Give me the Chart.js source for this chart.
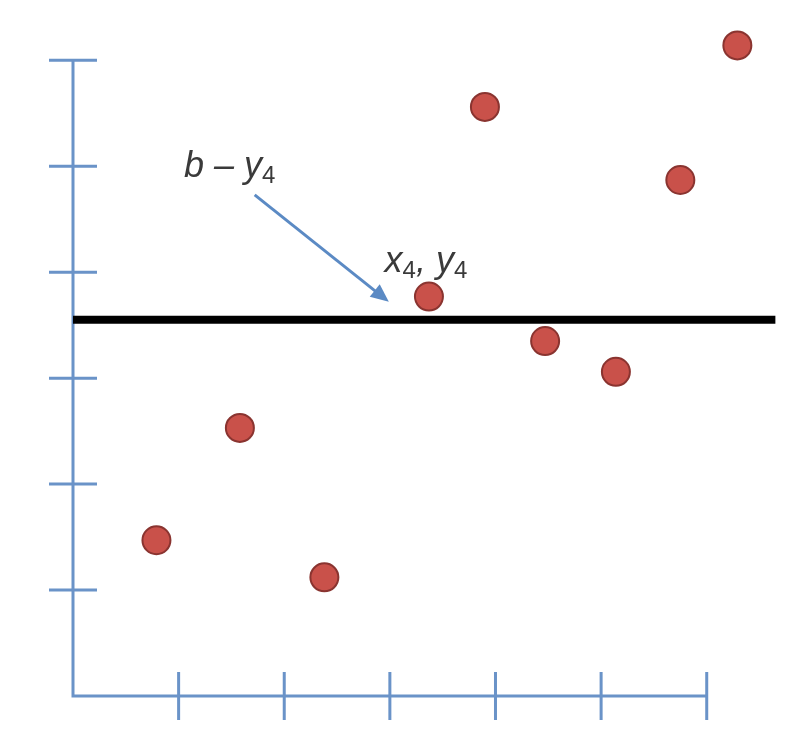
<!DOCTYPE html>
<html>
<head>
<meta charset="utf-8">
<script src="https://cdn.jsdelivr.net/npm/chart.js@4"></script>
<style>
  html, body { margin: 0; padding: 0; background: #fff; }
  #wrap { width: 803px; height: 743px; }
</style>
</head>
<body>
<div id="wrap"><canvas id="chart"></canvas></div>
<script>
// data points (axis tick = 1 unit)
const pointX = [0.79, 1.58, 2.38, 3.37, 3.90, 4.47, 5.14, 5.75, 6.29];
const pointY = [1.47, 2.53, 1.12, 3.77, 5.56, 3.35, 3.06, 4.87, 6.14];

// horizontal line y = b
const lineX = [0, 6.65];
const lineB = 3.55;

// axis ticks
const xTicks = [1, 2, 3, 4, 5, 6];
const yTicks = [1, 2, 3, 4, 5, 6];

// arrow from label to point 4
const arrowFrom = [1.72, 4.73];
const arrowTo = [2.99, 3.72];

const axisColour = "#6a93c8";

// draws the blue axes with crossing tick marks
const axesPlugin = {
    id: "axes",
    beforeDatasetsDraw(chart) {
        const ctx = chart.ctx;
        const xs = chart.scales.x, ys = chart.scales.y;
        const x0 = xs.getPixelForValue(0), y0 = ys.getPixelForValue(0);
        const half = 24;
        ctx.save();
        ctx.strokeStyle = axisColour;
        ctx.lineWidth = 3;
        ctx.beginPath();
        ctx.moveTo(x0, ys.getPixelForValue(yTicks[yTicks.length - 1]));
        ctx.lineTo(x0, y0);
        ctx.lineTo(xs.getPixelForValue(xTicks[xTicks.length - 1]), y0);
        yTicks.forEach(t => {
            const py = ys.getPixelForValue(t);
            ctx.moveTo(x0 - half, py);
            ctx.lineTo(x0 + half, py);
        });
        xTicks.forEach(t => {
            const px = xs.getPixelForValue(t);
            ctx.moveTo(px, y0 - half);
            ctx.lineTo(px, y0 + half);
        });
        ctx.stroke();

        // arrow
        const ax = xs.getPixelForValue(arrowFrom[0]), ay = ys.getPixelForValue(arrowFrom[1]);
        const bx = xs.getPixelForValue(arrowTo[0]), by = ys.getPixelForValue(arrowTo[1]);
        const ang = Math.atan2(by - ay, bx - ax);
        ctx.strokeStyle = "#5b8ac4";
        ctx.fillStyle = "#5b8ac4";
        ctx.lineWidth = 3;
        ctx.beginPath();
        ctx.moveTo(ax, ay);
        ctx.lineTo(bx - 8 * Math.cos(ang), by - 8 * Math.sin(ang));
        ctx.stroke();
        ctx.beginPath();
        ctx.moveTo(bx, by);
        ctx.lineTo(bx - 18 * Math.cos(ang) + 8 * Math.sin(ang), by - 18 * Math.sin(ang) - 8 * Math.cos(ang));
        ctx.lineTo(bx - 18 * Math.cos(ang) - 8 * Math.sin(ang), by - 18 * Math.sin(ang) + 8 * Math.cos(ang));
        ctx.closePath();
        ctx.fill();
        ctx.restore();
    },
    afterDatasetsDraw(chart) {
        const ctx = chart.ctx;
        const xs = chart.scales.x, ys = chart.scales.y;
        const big = "italic 36px 'Liberation Sans', Arial, sans-serif";
        const small = "24px 'Liberation Sans', Arial, sans-serif";
        ctx.save();
        ctx.fillStyle = "#3a3a3a";
        ctx.textBaseline = "alphabetic";
        // "b − y4"
        let px = xs.getPixelForValue(1.05), py = ys.getPixelForValue(4.9);
        ctx.font = big;
        const main1 = "b \u2013 y";
        ctx.fillText(main1, px, py);
        let w = ctx.measureText(main1).width;
        ctx.font = small;
        ctx.fillText("4", px + w, py + 6);
        // "x4, y4"
        px = xs.getPixelForValue(2.95); py = ys.getPixelForValue(4.0);
        ctx.font = big;
        ctx.fillText("x", px, py);
        w = ctx.measureText("x").width;
        ctx.font = small;
        ctx.fillText("4", px + w, py + 6);
        w += ctx.measureText("4").width;
        ctx.font = big;
        ctx.fillText(", y", px + w, py);
        w += ctx.measureText(", y").width;
        ctx.font = small;
        ctx.fillText("4", px + w, py + 6);
        ctx.restore();
    }
};

new Chart(document.getElementById("chart"), {
    type: "scatter",
    data: {
        datasets: [
            {
                label: "b",
                type: "line",
                data: lineX.map(x => ({ x: x, y: lineB })),
                borderColor: "#000",
                borderWidth: 8,
                pointRadius: 0,
                clip: false,
                order: 2
            },
            {
                label: "points",
                data: pointX.map((x, i) => ({ x: x, y: pointY[i] })),
                backgroundColor: "#c9514a",
                borderColor: "#8a3430",
                borderWidth: 2,
                pointRadius: 14,
                clip: false,
                order: 1
            }
        ]
    },
    options: {
        responsive: true,
        maintainAspectRatio: false,
        animation: false,
        layout: { padding: { left: 73, right: 13, top: 20, bottom: 47 } },
        scales: {
            x: { type: "linear", min: 0, max: 6.76, display: false },
            y: { type: "linear", min: 0, max: 6.38, display: false }
        },
        plugins: {
            legend: { display: false },
            tooltip: { enabled: false }
        }
    },
    plugins: [axesPlugin]
});
</script>
</body>
</html>
